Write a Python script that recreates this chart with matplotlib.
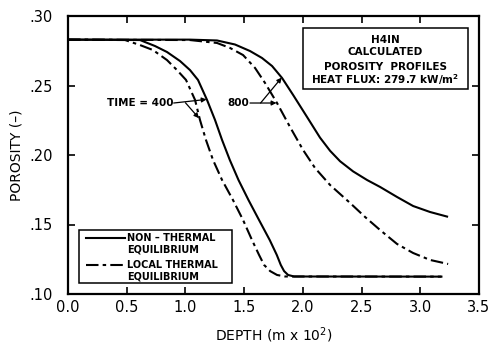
import matplotlib
matplotlib.use("Agg")
import matplotlib.pyplot as plt
from matplotlib.patches import Rectangle
from matplotlib.lines import Line2D

plt.rcParams['font.family'] = ['DejaVu Sans']
plt.rcParams['lines.scale_dashes'] = False

# Porosity profiles: non-thermal equilibrium (solid) and local thermal equilibrium (dash-dot)
depth_nte_400 = [0.0, 0.613, 0.741, 0.843, 0.954, 1.039, 1.107, 1.184, 1.252, 1.312,
                 1.378, 1.452, 1.537, 1.627, 1.718, 1.778, 1.812, 1.840, 1.874, 1.925, 3.18]
poro_nte_400 = [0.283, 0.2827, 0.2784, 0.2741, 0.2676, 0.2611, 0.2540, 0.2396, 0.2252,
                0.2108, 0.1964, 0.1820, 0.1676, 0.1532, 0.1388, 0.1281, 0.1209, 0.1165,
                0.1137, 0.1126, 0.1125]

depth_lte_400 = [0.0, 0.486, 0.613, 0.724, 0.843, 0.928, 1.005, 1.082, 1.124, 1.175,
                 1.235, 1.312, 1.405, 1.491, 1.567, 1.627, 1.670, 1.721, 1.780, 1.848, 3.18]
poro_lte_400 = [0.283, 0.2827, 0.2791, 0.2755, 0.2683, 0.2611, 0.2540, 0.2396, 0.2252,
                0.2108, 0.1964, 0.1820, 0.1676, 0.1532, 0.1388, 0.1281, 0.1209, 0.1165,
                0.1137, 0.1126, 0.1125]

depth_nte_800 = [0.0, 1.039, 1.269, 1.422, 1.550, 1.652, 1.738, 1.823, 1.917, 2.036,
                 2.146, 2.232, 2.317, 2.428, 2.547, 2.658, 2.802, 2.939, 3.083, 3.228]
poro_nte_800 = [0.283, 0.2830, 0.2824, 0.2795, 0.2748, 0.2698, 0.2640, 0.2554, 0.2432,
                0.2273, 0.2125, 0.2030, 0.1955, 0.1882, 0.1820, 0.1770, 0.1698, 0.1633,
                0.1590, 0.1557]

depth_lte_800 = [0.0, 1.039, 1.269, 1.380, 1.491, 1.593, 1.678, 1.780, 1.891, 2.002,
                 2.104, 2.232, 2.402, 2.530, 2.658, 2.802, 2.939, 3.083, 3.237]
poro_lte_800 = [0.283, 0.2827, 0.2806, 0.2770, 0.2719, 0.2626, 0.2518, 0.2374, 0.2201,
                0.2036, 0.1906, 0.1784, 0.1655, 0.1554, 0.1460, 0.1360, 0.1295, 0.1245,
                0.1216]

x_ticks = [0.0, 0.5, 1.0, 1.5, 2.0, 2.5, 3.0, 3.5]
x_tick_labels = ["0.0", "0.5", "1.0", "1.5", "2.0", "2.5", "3.0", "3.5"]
y_ticks = [0.10, 0.15, 0.20, 0.25, 0.30]
y_tick_labels = [".10", ".15", ".20", ".25", ".30"]

dashdot = (0, (9, 3, 2.5, 3))
lw = 1.5

fig = plt.figure(figsize=(4.88, 3.47), dpi=100)
ax = fig.add_axes([68 / 488, 1 - 294 / 347, 411 / 488, 278 / 347])

ax.plot(depth_nte_400, poro_nte_400, color='black', lw=lw)
ax.plot(depth_lte_400, poro_lte_400, color='black', lw=lw, linestyle=dashdot)
ax.plot(depth_nte_800, poro_nte_800, color='black', lw=lw)
ax.plot(depth_lte_800, poro_lte_800, color='black', lw=lw, linestyle=dashdot)

ax.set_xlim(0.0, 3.5)
ax.set_ylim(0.10, 0.30)
ax.set_xticks(x_ticks)
ax.set_xticklabels(x_tick_labels)
ax.set_yticks(y_ticks)
ax.set_yticklabels(y_tick_labels)
ax.tick_params(direction='in', length=5, width=1.2, top=True, right=True,
               labelsize=10.5, colors='black')
ax.tick_params(axis='x', pad=4)
ax.tick_params(axis='y', pad=11)
for s in ax.spines.values():
    s.set_linewidth(1.6)

ax.set_xlabel("DEPTH (m x 10$^2$)", fontsize=10, labelpad=8)
ax.set_ylabel("POROSITY (\u2013)", fontsize=10, labelpad=4)

# Time labels with arrows pointing to each pair of curves
tfs = 7.5
arrow = dict(arrowstyle='-|>', lw=0.9, color='black', mutation_scale=7,
             shrinkA=0, shrinkB=0)
ax.text(0.895, 0.2374, "TIME = 400", ha='right', va='center', fontsize=tfs,
        fontweight='bold')
ax.annotate("", xy=(1.18, 0.2400), xytext=(0.90, 0.2374), arrowprops=arrow)
ax.annotate("", xy=(1.115, 0.2265), xytext=(1.00, 0.2376), arrowprops=arrow)
ax.text(1.545, 0.2374, "800", ha='right', va='center', fontsize=tfs, fontweight='bold')
ax.annotate("", xy=(1.775, 0.2374), xytext=(1.55, 0.2374), arrowprops=arrow)
ax.annotate("", xy=(1.82, 0.2557), xytext=(1.64, 0.2374), arrowprops=arrow)

# Title box
ax.add_patch(Rectangle((2.0, 0.2475), 1.405, 0.0440, fill=False, lw=1.1,
                       edgecolor='black', zorder=3))
box_lines = ["H4IN", "CALCULATED", "POROSITY  PROFILES", "HEAT FLUX: 279.7 kW/m$^\\mathbf{2}$"]
box_y = [0.2830, 0.2738, 0.2630, 0.2540]
for s, yy in zip(box_lines, box_y):
    ax.text(2.70, yy, s, ha='center', va='center', fontsize=7.5, fontweight='bold')

# Line-style key
ax.add_patch(Rectangle((0.094, 0.1079), 1.303, 0.0381, fill=False, lw=1.1,
                       edgecolor='black', zorder=3))
ax.add_line(Line2D([0.153, 0.486], [0.1403, 0.1403], color='black', lw=lw))
ax.add_line(Line2D([0.153, 0.486], [0.1209, 0.1209], color='black', lw=lw,
                   linestyle=dashdot))
kfs = 7
ax.text(0.505, 0.1403, "NON \u2013 THERMAL", ha='left', va='center', fontsize=kfs, fontweight='bold')
ax.text(0.505, 0.1317, "EQUILIBRIUM", ha='left', va='center', fontsize=kfs, fontweight='bold')
ax.text(0.505, 0.1209, "LOCAL THERMAL", ha='left', va='center', fontsize=kfs, fontweight='bold')
ax.text(0.505, 0.1129, "EQUILIBRIUM", ha='left', va='center', fontsize=kfs, fontweight='bold')

fig.savefig("out.png", dpi=100)
